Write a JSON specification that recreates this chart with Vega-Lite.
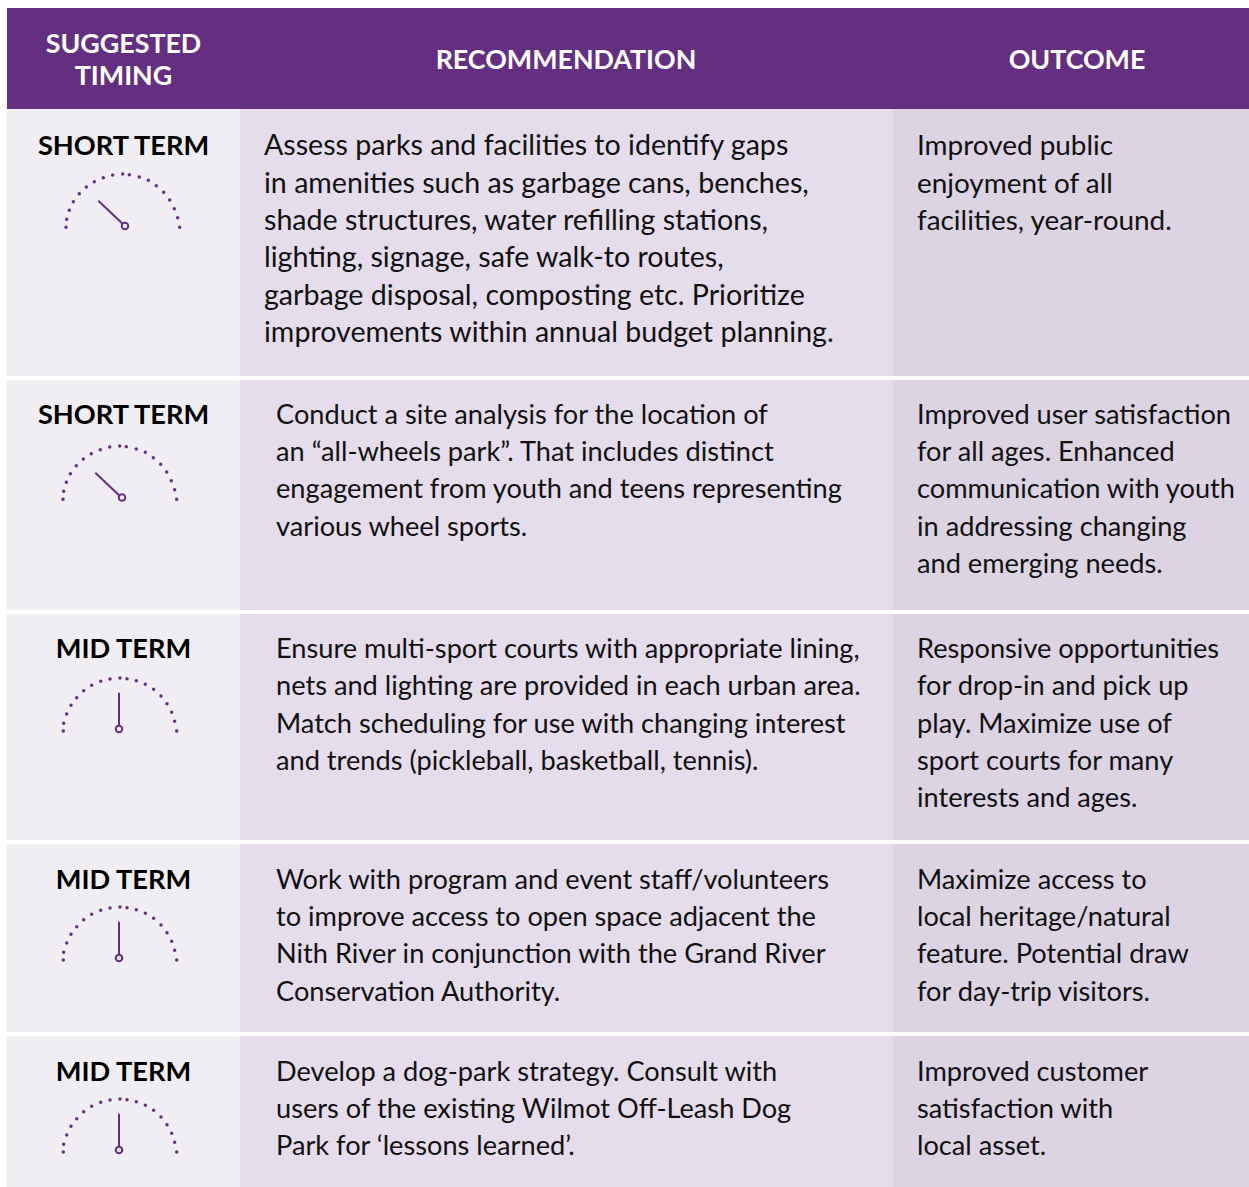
{"$schema":"https://vega.github.io/schema/vega-lite/v6.json","width":1249,"height":1187,"padding":0,"autosize":{"type":"fit","contains":"padding"},"background":"white","config":{"view":{"stroke":null}},
"datasets":{
"cells":[
{"part":"header","x":7,"x2":1249,"y":8,"y2":109},
{"part":"timing","x":7,"x2":240,"y":109,"y2":376},{"part":"recommendation","x":240,"x2":893,"y":109,"y2":376},{"part":"outcome","x":893,"x2":1249,"y":109,"y2":376},
{"part":"timing","x":7,"x2":240,"y":380,"y2":610},{"part":"recommendation","x":240,"x2":893,"y":380,"y2":610},{"part":"outcome","x":893,"x2":1249,"y":380,"y2":610},
{"part":"timing","x":7,"x2":240,"y":614,"y2":840},{"part":"recommendation","x":240,"x2":893,"y":614,"y2":840},{"part":"outcome","x":893,"x2":1249,"y":614,"y2":840},
{"part":"timing","x":7,"x2":240,"y":844,"y2":1032},{"part":"recommendation","x":240,"x2":893,"y":844,"y2":1032},{"part":"outcome","x":893,"x2":1249,"y":844,"y2":1032},
{"part":"timing","x":7,"x2":240,"y":1036,"y2":1187},{"part":"recommendation","x":240,"x2":893,"y":1036,"y2":1187},{"part":"outcome","x":893,"x2":1249,"y":1036,"y2":1187}],
"headers":[{"t":"SUGGESTED","x":123.5,"y":53},{"t":"TIMING","x":123.5,"y":85},{"t":"RECOMMENDATION","x":566,"y":69},{"t":"OUTCOME","x":1077,"y":69}],
"terms":[{"t":"SHORT TERM","x":123.5,"y":155},{"t":"SHORT TERM","x":123.5,"y":424},{"t":"MID TERM","x":123.5,"y":658},{"t":"MID TERM","x":123.5,"y":889},{"t":"MID TERM","x":123.5,"y":1081}],
"recFirst":[
{"t":"Assess parks and facilities to identify gaps","x":264,"y":155},{"t":"in amenities such as garbage cans, benches,","x":264,"y":193},{"t":"shade structures, water refilling stations,","x":264,"y":230},{"t":"lighting, signage, safe walk-to routes,","x":264,"y":267},{"t":"garbage disposal, composting etc. Prioritize","x":264,"y":305},{"t":"improvements within annual budget planning.","x":264,"y":342}],
"outFirst":[
{"t":"Improved public","x":917,"y":155},{"t":"enjoyment of all","x":917,"y":193},{"t":"facilities, year-round.","x":917,"y":230}],
"body":[
{"t":"Conduct a site analysis for the location of","x":276,"y":424},{"t":"an “all-wheels park”. That includes distinct","x":276,"y":461},{"t":"engagement from youth and teens representing","x":276,"y":498},{"t":"various wheel sports.","x":276,"y":536},
{"t":"Improved user satisfaction","x":917,"y":424},{"t":"for all ages. Enhanced","x":917,"y":461},{"t":"communication with youth","x":917,"y":498},{"t":"in addressing changing","x":917,"y":536},{"t":"and emerging needs.","x":917,"y":573},
{"t":"Ensure multi-sport courts with appropriate lining,","x":276,"y":658},{"t":"nets and lighting are provided in each urban area.","x":276,"y":695},{"t":"Match scheduling for use with changing interest","x":276,"y":733},{"t":"and trends (pickleball, basketball, tennis).","x":276,"y":770},
{"t":"Responsive opportunities","x":917,"y":658},{"t":"for drop-in and pick up","x":917,"y":695},{"t":"play. Maximize use of","x":917,"y":733},{"t":"sport courts for many","x":917,"y":770},{"t":"interests and ages.","x":917,"y":807},
{"t":"Work with program and event staff/volunteers","x":276,"y":889},{"t":"to improve access to open space adjacent the","x":276,"y":926},{"t":"Nith River in conjunction with the Grand River","x":276,"y":963},{"t":"Conservation Authority.","x":276,"y":1001},
{"t":"Maximize access to","x":917,"y":889},{"t":"local heritage/natural","x":917,"y":926},{"t":"feature. Potential draw","x":917,"y":963},{"t":"for day-trip visitors.","x":917,"y":1001},
{"t":"Develop a dog-park strategy. Consult with","x":276,"y":1081},{"t":"users of the existing Wilmot Off-Leash Dog","x":276,"y":1118},{"t":"Park for ‘lessons learned’.","x":276,"y":1155},
{"t":"Improved customer","x":917,"y":1081},{"t":"satisfaction with","x":917,"y":1118},{"t":"local asset.","x":917,"y":1155}],
"needles":[{"x":98.3,"y":200.7,"x2":125,"y2":226},{"x":95.3,"y":472.7,"x2":122,"y2":498},{"x":119,"y":692.7,"x2":119,"y2":729},{"x":119,"y":921.7,"x2":119,"y2":958},{"x":119,"y":1113.7,"x2":119,"y2":1150}],
"hubs":[{"x":125,"y":226},{"x":122,"y":497.5},{"x":119,"y":729},{"x":119,"y":958},{"x":119,"y":1150}],
"dots":[
{"x":66,"y":227.3},{"x":66.7,"y":219.3},{"x":69.3,"y":210.3},{"x":73.3,"y":201.7},{"x":79.3,"y":193.7},{"x":86.3,"y":187},{"x":94.3,"y":181.7},{"x":103.3,"y":177.7},{"x":112.7,"y":175},{"x":122.7,"y":174},{"x":129.3,"y":174.7},{"x":139.3,"y":177},{"x":148.3,"y":180.3},{"x":156.3,"y":185.7},{"x":163.7,"y":192.3},{"x":169.7,"y":200},{"x":174.3,"y":208.7},{"x":177.7,"y":217.7},{"x":179.7,"y":227.3},
{"x":63,"y":499.3},{"x":63.7,"y":491.3},{"x":66.3,"y":482.3},{"x":70.3,"y":473.7},{"x":76.3,"y":465.7},{"x":83.3,"y":459},{"x":91.3,"y":453.7},{"x":100.3,"y":449.7},{"x":109.7,"y":447},{"x":119.7,"y":446},{"x":126.3,"y":446.7},{"x":136.3,"y":449},{"x":145.3,"y":452.3},{"x":153.3,"y":457.7},{"x":160.7,"y":464.3},{"x":166.7,"y":472},{"x":171.3,"y":480.7},{"x":174.7,"y":489.7},{"x":176.7,"y":499.3},
{"x":63.3,"y":731},{"x":63.7,"y":723.3},{"x":66.7,"y":714},{"x":71,"y":705.3},{"x":76.7,"y":697.7},{"x":83.7,"y":690.7},{"x":91.7,"y":685.3},{"x":100.7,"y":681.3},{"x":110,"y":679},{"x":120,"y":678},{"x":127,"y":678.7},{"x":136.3,"y":680.7},{"x":145.3,"y":684.3},{"x":153.7,"y":689.3},{"x":161,"y":696},{"x":167,"y":703.7},{"x":171.7,"y":712.3},{"x":174.7,"y":721.3},{"x":176.7,"y":731},
{"x":63.3,"y":960},{"x":63.7,"y":952.3},{"x":66.7,"y":943},{"x":71,"y":934.3},{"x":76.7,"y":926.7},{"x":83.7,"y":919.7},{"x":91.7,"y":914.3},{"x":100.7,"y":910.3},{"x":110,"y":908},{"x":120,"y":907},{"x":127,"y":907.7},{"x":136.3,"y":909.7},{"x":145.3,"y":913.3},{"x":153.7,"y":918.3},{"x":161,"y":925},{"x":167,"y":932.7},{"x":171.7,"y":941.3},{"x":174.7,"y":950.3},{"x":176.7,"y":960},
{"x":63.3,"y":1152},{"x":63.7,"y":1144.3},{"x":66.7,"y":1135},{"x":71,"y":1126.3},{"x":76.7,"y":1118.7},{"x":83.7,"y":1111.7},{"x":91.7,"y":1106.3},{"x":100.7,"y":1102.3},{"x":110,"y":1100},{"x":120,"y":1099},{"x":127,"y":1099.7},{"x":136.3,"y":1101.7},{"x":145.3,"y":1105.3},{"x":153.7,"y":1110.3},{"x":161,"y":1117},{"x":167,"y":1124.7},{"x":171.7,"y":1133.3},{"x":174.7,"y":1142.3},{"x":176.7,"y":1152}]
},
"layer":[
{"data":{"name":"cells"},"mark":{"type":"rect"},"encoding":{"x":{"field":"x","type":"quantitative","scale":{"domain":[0,1249],"range":[0,1249],"nice":false,"zero":false},"axis":null},"x2":{"field":"x2"},"y":{"field":"y","type":"quantitative","scale":{"domain":[0,1187],"range":[0,1187],"nice":false,"zero":false},"axis":null},"y2":{"field":"y2"},"color":{"field":"part","type":"nominal","legend":null,"scale":{"domain":["header","timing","recommendation","outcome"],"range":["#642F80","#F0EDF3","#E5DDEB","#DCD4E3"]}}}},
{"data":{"name":"headers"},"mark":{"type":"text","font":"Lato","fontSize":26.8,"fontWeight":"bold","color":"#FFFFFF","align":"center","baseline":"alphabetic"},"encoding":{"x":{"field":"x","type":"quantitative","axis":null},"y":{"field":"y","type":"quantitative","axis":null},"text":{"field":"t"}}},
{"data":{"name":"terms"},"mark":{"type":"text","font":"Lato","fontSize":27.2,"fontWeight":"bold","color":"#000000","align":"center","baseline":"alphabetic"},"encoding":{"x":{"field":"x","type":"quantitative","axis":null},"y":{"field":"y","type":"quantitative","axis":null},"text":{"field":"t"}}},
{"data":{"name":"recFirst"},"mark":{"type":"text","font":"Lato","fontSize":28.6,"color":"#111111","align":"left","baseline":"alphabetic"},"encoding":{"x":{"field":"x","type":"quantitative","axis":null},"y":{"field":"y","type":"quantitative","axis":null},"text":{"field":"t"}}},
{"data":{"name":"outFirst"},"mark":{"type":"text","font":"Lato","fontSize":27.9,"color":"#111111","align":"left","baseline":"alphabetic"},"encoding":{"x":{"field":"x","type":"quantitative","axis":null},"y":{"field":"y","type":"quantitative","axis":null},"text":{"field":"t"}}},
{"data":{"name":"body"},"mark":{"type":"text","font":"Lato","fontSize":27.2,"color":"#111111","align":"left","baseline":"alphabetic"},"encoding":{"x":{"field":"x","type":"quantitative","axis":null},"y":{"field":"y","type":"quantitative","axis":null},"text":{"field":"t"}}},
{"data":{"name":"needles"},"mark":{"type":"rule","color":"#642F80","strokeWidth":2},"encoding":{"x":{"field":"x","type":"quantitative","axis":null},"y":{"field":"y","type":"quantitative","axis":null},"x2":{"field":"x2"},"y2":{"field":"y2"}}},
{"data":{"name":"hubs"},"mark":{"type":"point","filled":true,"fill":"#F0EDF3","stroke":"#642F80","strokeWidth":2,"size":42,"opacity":1},"encoding":{"x":{"field":"x","type":"quantitative","axis":null},"y":{"field":"y","type":"quantitative","axis":null}}},
{"data":{"name":"dots"},"mark":{"type":"circle","color":"#642F80","size":12,"opacity":1},"encoding":{"x":{"field":"x","type":"quantitative","axis":null},"y":{"field":"y","type":"quantitative","axis":null}}}
]}
